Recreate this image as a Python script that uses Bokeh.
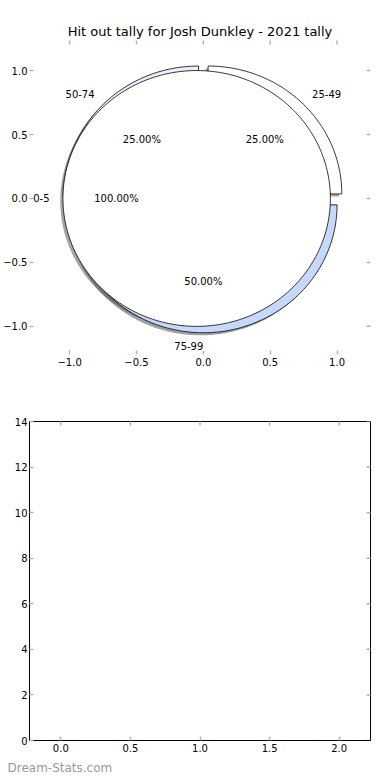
import numpy as np
from bokeh.plotting import figure
from bokeh.layouts import column
from bokeh.models import ColumnDataSource, FixedTicker, Title, Range1d, LabelSet
from bokeh.core.properties import value
from bokeh.embed import file_html
from bokeh.resources import INLINE

# ---------------- data ----------------
title_text = "Hit out tally for Josh Dunkley - 2021 tally"
inner_labels = ["0-5"]
inner_values = [1]
inner_colors = ["#ffffff"]
outer_labels = ["25-49", "50-74", "75-99"]
outer_values = [1, 1, 2]
outer_colors = ["#ffffff", "#eaf0fa", "#c7d9fb"]
explode = 0.05
pie_ticks = [-1.0, -0.5, 0.0, 0.5, 1.0]
pie_tick_labels = ["\u22121.0", "\u22120.5", "0.0", "0.5", "1.0"]
bar_xticks = [0.0, 0.5, 1.0, 1.5, 2.0]
bar_xtick_labels = ["0.0", "0.5", "1.0", "1.5", "2.0"]
bar_yticks = [0, 2, 4, 6, 8, 10, 12, 14]
bar_ytick_labels = ["0", "2", "4", "6", "8", "10", "12", "14"]
watermark = "Dream-Stats.com"

FONT = "DejaVu Sans"
TICK_COLOR = "#b4b4b4"


def pie_geometry(values, colors, labels, radius=1.0, expl=0.05, npts=360):
    total = float(sum(values))
    out = dict(xs=[], ys=[], color=[], sx=[], sy=[], scolor=[],
               lx=[], ly=[], label=[], align=[], px=[], py=[], pct=[])
    t1 = 0.0
    for v, c, lab in zip(values, colors, labels):
        frac = v / total
        t2 = t1 + 360.0 * frac
        mid = np.deg2rad((t1 + t2) / 2.0)
        cx, cy = expl * np.cos(mid), expl * np.sin(mid)
        n = max(int(npts * frac), 12)
        th = np.deg2rad(np.linspace(t1, t2, n))
        xs = list(cx + radius * np.cos(th))
        ys = list(cy + radius * np.sin(th))
        if frac < 1.0:
            xs = [cx] + xs
            ys = [cy] + ys
        out["xs"].append(xs)
        out["ys"].append(ys)
        out["color"].append(c)
        out["sx"].append([x - 0.02 for x in xs])
        out["sy"].append([y - 0.02 for y in ys])
        r, g, b = (int(c[i:i + 2], 16) for i in (1, 3, 5))
        out["scolor"].append("#%02x%02x%02x" % (int(0.3 * r), int(0.3 * g), int(0.3 * b)))
        lx = cx + 1.1 * radius * np.cos(mid)
        ly = cy + 1.1 * radius * np.sin(mid)
        out["lx"].append(lx)
        out["ly"].append(ly)
        out["label"].append(lab)
        out["align"].append("left" if lx > 0 else "right")
        out["px"].append(cx + 0.6 * radius * np.cos(mid))
        out["py"].append(cy + 0.6 * radius * np.sin(mid))
        out["pct"].append("%.2f%%" % (100.0 * frac))
        t1 = t2
    return out


inner = pie_geometry(inner_values, inner_colors, inner_labels, expl=explode)
outer = pie_geometry(outer_values, outer_colors, outer_labels, expl=explode)


def style_axis(ax, ticks, labels, line=None):
    ax.ticker = FixedTicker(ticks=ticks)
    ax.major_label_overrides = {t: l for t, l in zip(ticks, labels)}
    ax.major_tick_in = 4
    ax.major_tick_out = 0
    ax.major_tick_line_color = TICK_COLOR
    ax.major_tick_line_width = 1.5
    ax.minor_tick_line_color = None
    ax.axis_line_color = line
    ax.major_label_text_font = FONT
    ax.major_label_text_font_size = "10px"
    ax.major_label_text_color = "#000000"
    ax.major_label_standoff = 3


def edge_ticks(p, xticks, yticks):
    # inward tick marks on the top and right frame edges (half of each dash is clipped)
    p.scatter(x=xticks, y=[p.y_range.end] * len(xticks), marker="dash", angle=np.pi / 2,
              size=8, line_color=TICK_COLOR, line_width=1.5)
    p.scatter(x=[p.x_range.end] * len(yticks), y=yticks, marker="dash", angle=0,
              size=8, line_color=TICK_COLOR, line_width=1.5)


# ---------------- top: pie ----------------
p1 = figure(width=390, height=390, output_backend="svg", toolbar_location=None,
            x_range=Range1d(-1.30, 1.25), y_range=Range1d(-1.22, 1.235),
            min_border_left=24, min_border_right=20, min_border_top=40, min_border_bottom=36)
p1.title.text = title_text
p1.title.align = "center"
p1.title.text_font = FONT
p1.title.text_font_size = "13px"
p1.title.text_font_style = "normal"
p1.title.text_color = "#000000"
p1.title.standoff = 4
p1.outline_line_color = None
p1.xgrid.visible = False
p1.ygrid.visible = False
style_axis(p1.xaxis[0], pie_ticks, pie_tick_labels)
style_axis(p1.yaxis[0], pie_ticks, pie_tick_labels)
p1.yaxis[0].major_label_standoff = 2
edge_ticks(p1, pie_ticks, pie_ticks)

# shadows (below all wedges)
for g in (outer, inner):
    p1.patches(xs="sx", ys="sy", source=ColumnDataSource(dict(sx=g["sx"], sy=g["sy"], scolor=g["scolor"])),
               fill_color="scolor", fill_alpha=0.5, line_color=None)
# wedges
for g in (outer, inner):
    p1.patches(xs="xs", ys="ys", source=ColumnDataSource(dict(xs=g["xs"], ys=g["ys"], color=g["color"])),
               fill_color="color", line_color="#000000", line_width=0.8)

# labels
for g in (outer, inner):
    for al in ("left", "right"):
        idx = [i for i, a in enumerate(g["align"]) if a == al]
        if not idx:
            continue
        src = ColumnDataSource(dict(x=[g["lx"][i] for i in idx], y=[g["ly"][i] for i in idx],
                                    t=[g["label"][i] for i in idx]))
        p1.add_layout(LabelSet(x="x", y="y", text="t", source=src, text_align=al,
                               text_baseline="middle", text_font=value(FONT),
                               text_font_size=value("10px"), text_color="#000000"))
    src = ColumnDataSource(dict(x=g["px"], y=g["py"], t=g["pct"]))
    p1.add_layout(LabelSet(x="x", y="y", text="t", source=src, text_align="center",
                           text_baseline="middle", text_font=value(FONT),
                           text_font_size=value("10px"), text_color="#000000"))

# ---------------- bottom: empty axes ----------------
p2 = figure(width=390, height=390, output_backend="svg", toolbar_location=None,
            x_range=Range1d(-0.225, 2.225), y_range=Range1d(0, 14),
            min_border_left=19, min_border_right=20, min_border_top=31, min_border_bottom=40)
p2.outline_line_color = "#000000"
p2.outline_line_width = 1
p2.xgrid.visible = False
p2.ygrid.visible = False
style_axis(p2.xaxis[0], bar_xticks, bar_xtick_labels, line="#000000")
style_axis(p2.yaxis[0], bar_yticks, bar_ytick_labels, line="#000000")
p2.yaxis[0].major_label_standoff = 2
edge_ticks(p2, bar_xticks, bar_yticks)

wm = Title(text=watermark, align="left", offset=-22, text_font=FONT, text_font_size="12px",
           text_font_style="normal", text_color="#999999", standoff=9)
p2.add_layout(wm, "below")

layout = column(p1, p2, spacing=0)
open("out.html", "w").write(file_html(layout, INLINE))
